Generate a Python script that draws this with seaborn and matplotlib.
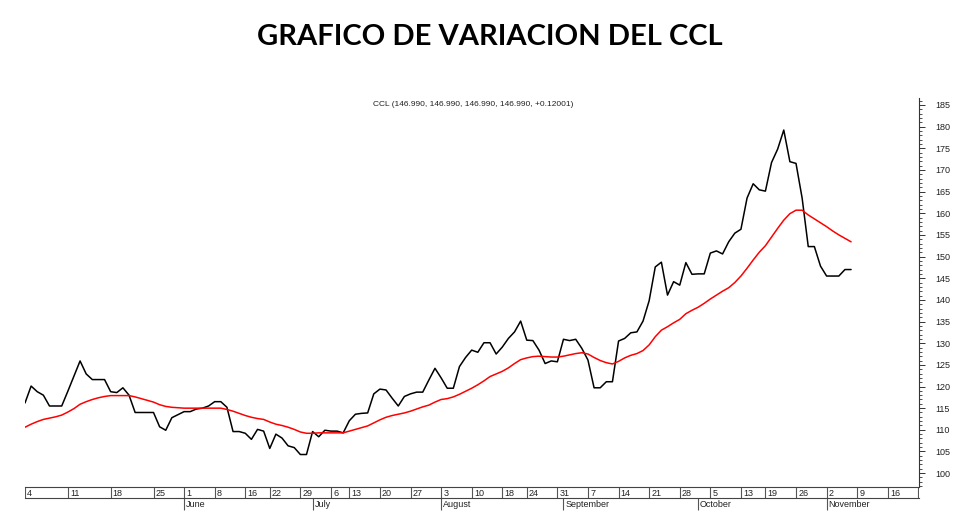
import numpy as np
import pandas as pd
import matplotlib
matplotlib.use("Agg")
import matplotlib.pyplot as plt
import seaborn as sns

# ---- data (trading-day index starting 4 May) ----
ccl = [116.2, 120.1, 118.8, 118.0, 115.5, 115.5, 115.5, 118.9, 122.4, 125.9,
       122.9, 121.6, 121.6, 121.6, 118.8, 118.6, 119.7, 118.0, 114.0, 114.0,
       114.0, 114.0, 110.7, 109.9, 112.8, 113.5, 114.2, 114.2, 114.8, 115.0,
       115.5, 116.5, 116.5, 115.2, 109.6, 109.6, 109.2, 107.8, 110.1, 109.7,
       105.7, 109.0, 108.1, 106.3, 105.9, 104.3, 104.3, 109.6, 108.4, 109.9,
       109.7, 109.7, 109.3, 112.1, 113.6, 113.8, 113.9, 118.3, 119.4, 119.2,
       117.3, 115.5, 117.7, 118.3, 118.7, 118.7, 121.5, 124.2, 122.0, 119.6,
       119.6, 124.6, 126.7, 128.4, 127.9, 130.1, 130.1, 127.5, 129.1, 131.1,
       132.6, 135.1, 130.7, 130.6, 128.4, 125.3, 125.9, 125.7, 130.9, 130.6,
       130.9, 128.8, 126.1, 119.7, 119.7, 121.1, 121.1, 130.5, 131.1, 132.4,
       132.6, 135.1, 139.8, 147.6, 148.7, 141.1, 144.2, 143.4, 148.6, 145.9,
       146.0, 146.0, 150.8, 151.3, 150.6, 153.4, 155.4, 156.3, 163.5, 166.8,
       165.4, 165.1, 171.7, 174.8, 179.2, 171.9, 171.5, 163.5, 152.3, 152.3,
       147.8, 145.5, 145.5, 145.5, 147.0, 147.0]

moving_avg = [110.6, 111.3, 111.9, 112.4, 112.7, 113.0, 113.4, 114.1, 114.9, 115.9,
              116.5, 117.0, 117.4, 117.7, 117.9, 117.9, 117.9, 117.9, 117.6, 117.2,
              116.8, 116.4, 115.8, 115.4, 115.2, 115.1, 115.0, 115.0, 115.0, 115.0,
              115.0, 115.0, 115.0, 114.7, 114.3, 113.8, 113.3, 112.9, 112.6, 112.4,
              111.8, 111.3, 111.0, 110.6, 110.1, 109.5, 109.2, 109.2, 109.3, 109.3,
              109.3, 109.3, 109.3, 109.7, 110.1, 110.5, 110.9, 111.6, 112.3, 112.9,
              113.3, 113.6, 113.9, 114.3, 114.8, 115.3, 115.7, 116.4, 117.0, 117.2,
              117.6, 118.2, 118.9, 119.6, 120.4, 121.3, 122.3, 122.9, 123.5, 124.3,
              125.3, 126.2, 126.6, 126.9, 127.0, 126.9, 126.8, 126.8, 127.0, 127.3,
              127.6, 127.8, 127.5, 126.7, 126.0, 125.5, 125.2, 125.8, 126.6, 127.2,
              127.6, 128.3, 129.6, 131.5, 133.0, 133.8, 134.7, 135.5, 136.8, 137.6,
              138.3, 139.2, 140.2, 141.1, 142.0, 142.8, 144.0, 145.5, 147.3, 149.2,
              151.0, 152.5, 154.5, 156.5, 158.4, 159.9, 160.7, 160.7, 159.6, 158.7,
              157.8, 156.9, 155.9, 155.0, 154.2, 153.4]

day_index = list(range(len(ccl)))

tick_idx = [0, 7, 14, 21, 26, 31, 36, 40, 45, 50, 53, 58, 63, 68, 73, 78, 82, 87,
            92, 97, 102, 107, 112, 117, 121, 126, 131, 136, 141, 146]
tick_labels = ['4', '11', '18', '25', '1', '8', '16', '22', '29', '6', '13', '20',
               '27', '3', '10', '18', '24', '31', '7', '14', '21', '28', '5', '13',
               '19', '26', '2', '9', '16', '23']
month_idx = [26, 47, 68, 88, 110, 131]
month_names = ['June', 'July', 'August', 'September', 'October', 'November']

y_major = list(range(100, 186, 5))
title = "GRAFICO DE VARIACION DEL CCL"
subtitle = "CCL (146.990, 146.990, 146.990, 146.990, +0.12001)"

# ---- figure ----
sns.set_theme(style="white")
plt.rcParams['font.family'] = ['Liberation Sans', 'DejaVu Sans']

W, H = 980, 523
fig = plt.figure(figsize=(W / 100, H / 100), dpi=100)
L, R, T, B = 25, 919, 98, 487
ax = fig.add_axes([L / W, 1 - B / H, (R - L) / W, (B - T) / H])

df = pd.DataFrame({'idx': day_index, 'CCL': ccl, 'MA': moving_avg})
sns.lineplot(data=df, x='idx', y='CCL', ax=ax, color='black', lw=1.1)
sns.lineplot(data=df, x='idx', y='MA', ax=ax, color='#ff0000', lw=1.1)

ax.set_xlim(0, 146.1)
ax.set_ylim(96.8, 186.6)
ax.set_xlabel('')
ax.set_ylabel('')
ax.set_xticks([])
ax.yaxis.tick_right()
for s in ['left', 'top', 'bottom']:
    ax.spines[s].set_visible(False)
ax.spines['right'].set_color('#333333')
ax.spines['right'].set_linewidth(0.8)
ax.set_yticks(y_major)
ax.set_yticks(list(range(97, 187)), minor=True)
ax.tick_params(axis='y', which='major', direction='out', length=4, width=0.7,
               color='#333333', labelsize=6.5, pad=8, labelcolor='#222222')
ax.tick_params(axis='y', which='minor', direction='out', length=2, width=0.6,
               color='#333333')

# date strip
sb_top, sb_bot = 487, 498
ax2 = fig.add_axes([L / W, 1 - sb_bot / H, (R - L) / W, (sb_bot - sb_top) / H], sharex=ax)
ax2.set_ylim(0, 1)
ax2.set_facecolor('none')
ax2.tick_params(left=False, bottom=False, labelleft=False, labelbottom=False)
for s in ['left', 'right']:
    ax2.spines[s].set_visible(False)
for s in ['top', 'bottom']:
    ax2.spines[s].set_color('#444444')
    ax2.spines[s].set_linewidth(0.8)
ax2.vlines(tick_idx, 0, 1, color='#555555', lw=0.8)
for xi, lab in zip(tick_idx, tick_labels):
    ax2.text(xi + 0.35, 0.45, lab, fontsize=6.5, va='center', ha='left',
             color='#222222', clip_on=True)
ax2.vlines(month_idx, -1.1, 0, color='#555555', lw=0.8, clip_on=False)
for xi, lab in zip(month_idx, month_names):
    ax2.text(xi + 0.3, -0.55, lab, fontsize=6.5, va='center', ha='left',
             color='#222222', clip_on=False)

fig.text(0.5, 1 - 37 / H, title, ha='center', va='center', fontsize=21,
         fontweight='bold', family=['Lato', 'DejaVu Sans'], color='black')
fig.text(473 / W, 1 - 105 / H, subtitle, ha='center', va='center', fontsize=6,
         color='#222222')

fig.savefig('out.png', dpi=100)
